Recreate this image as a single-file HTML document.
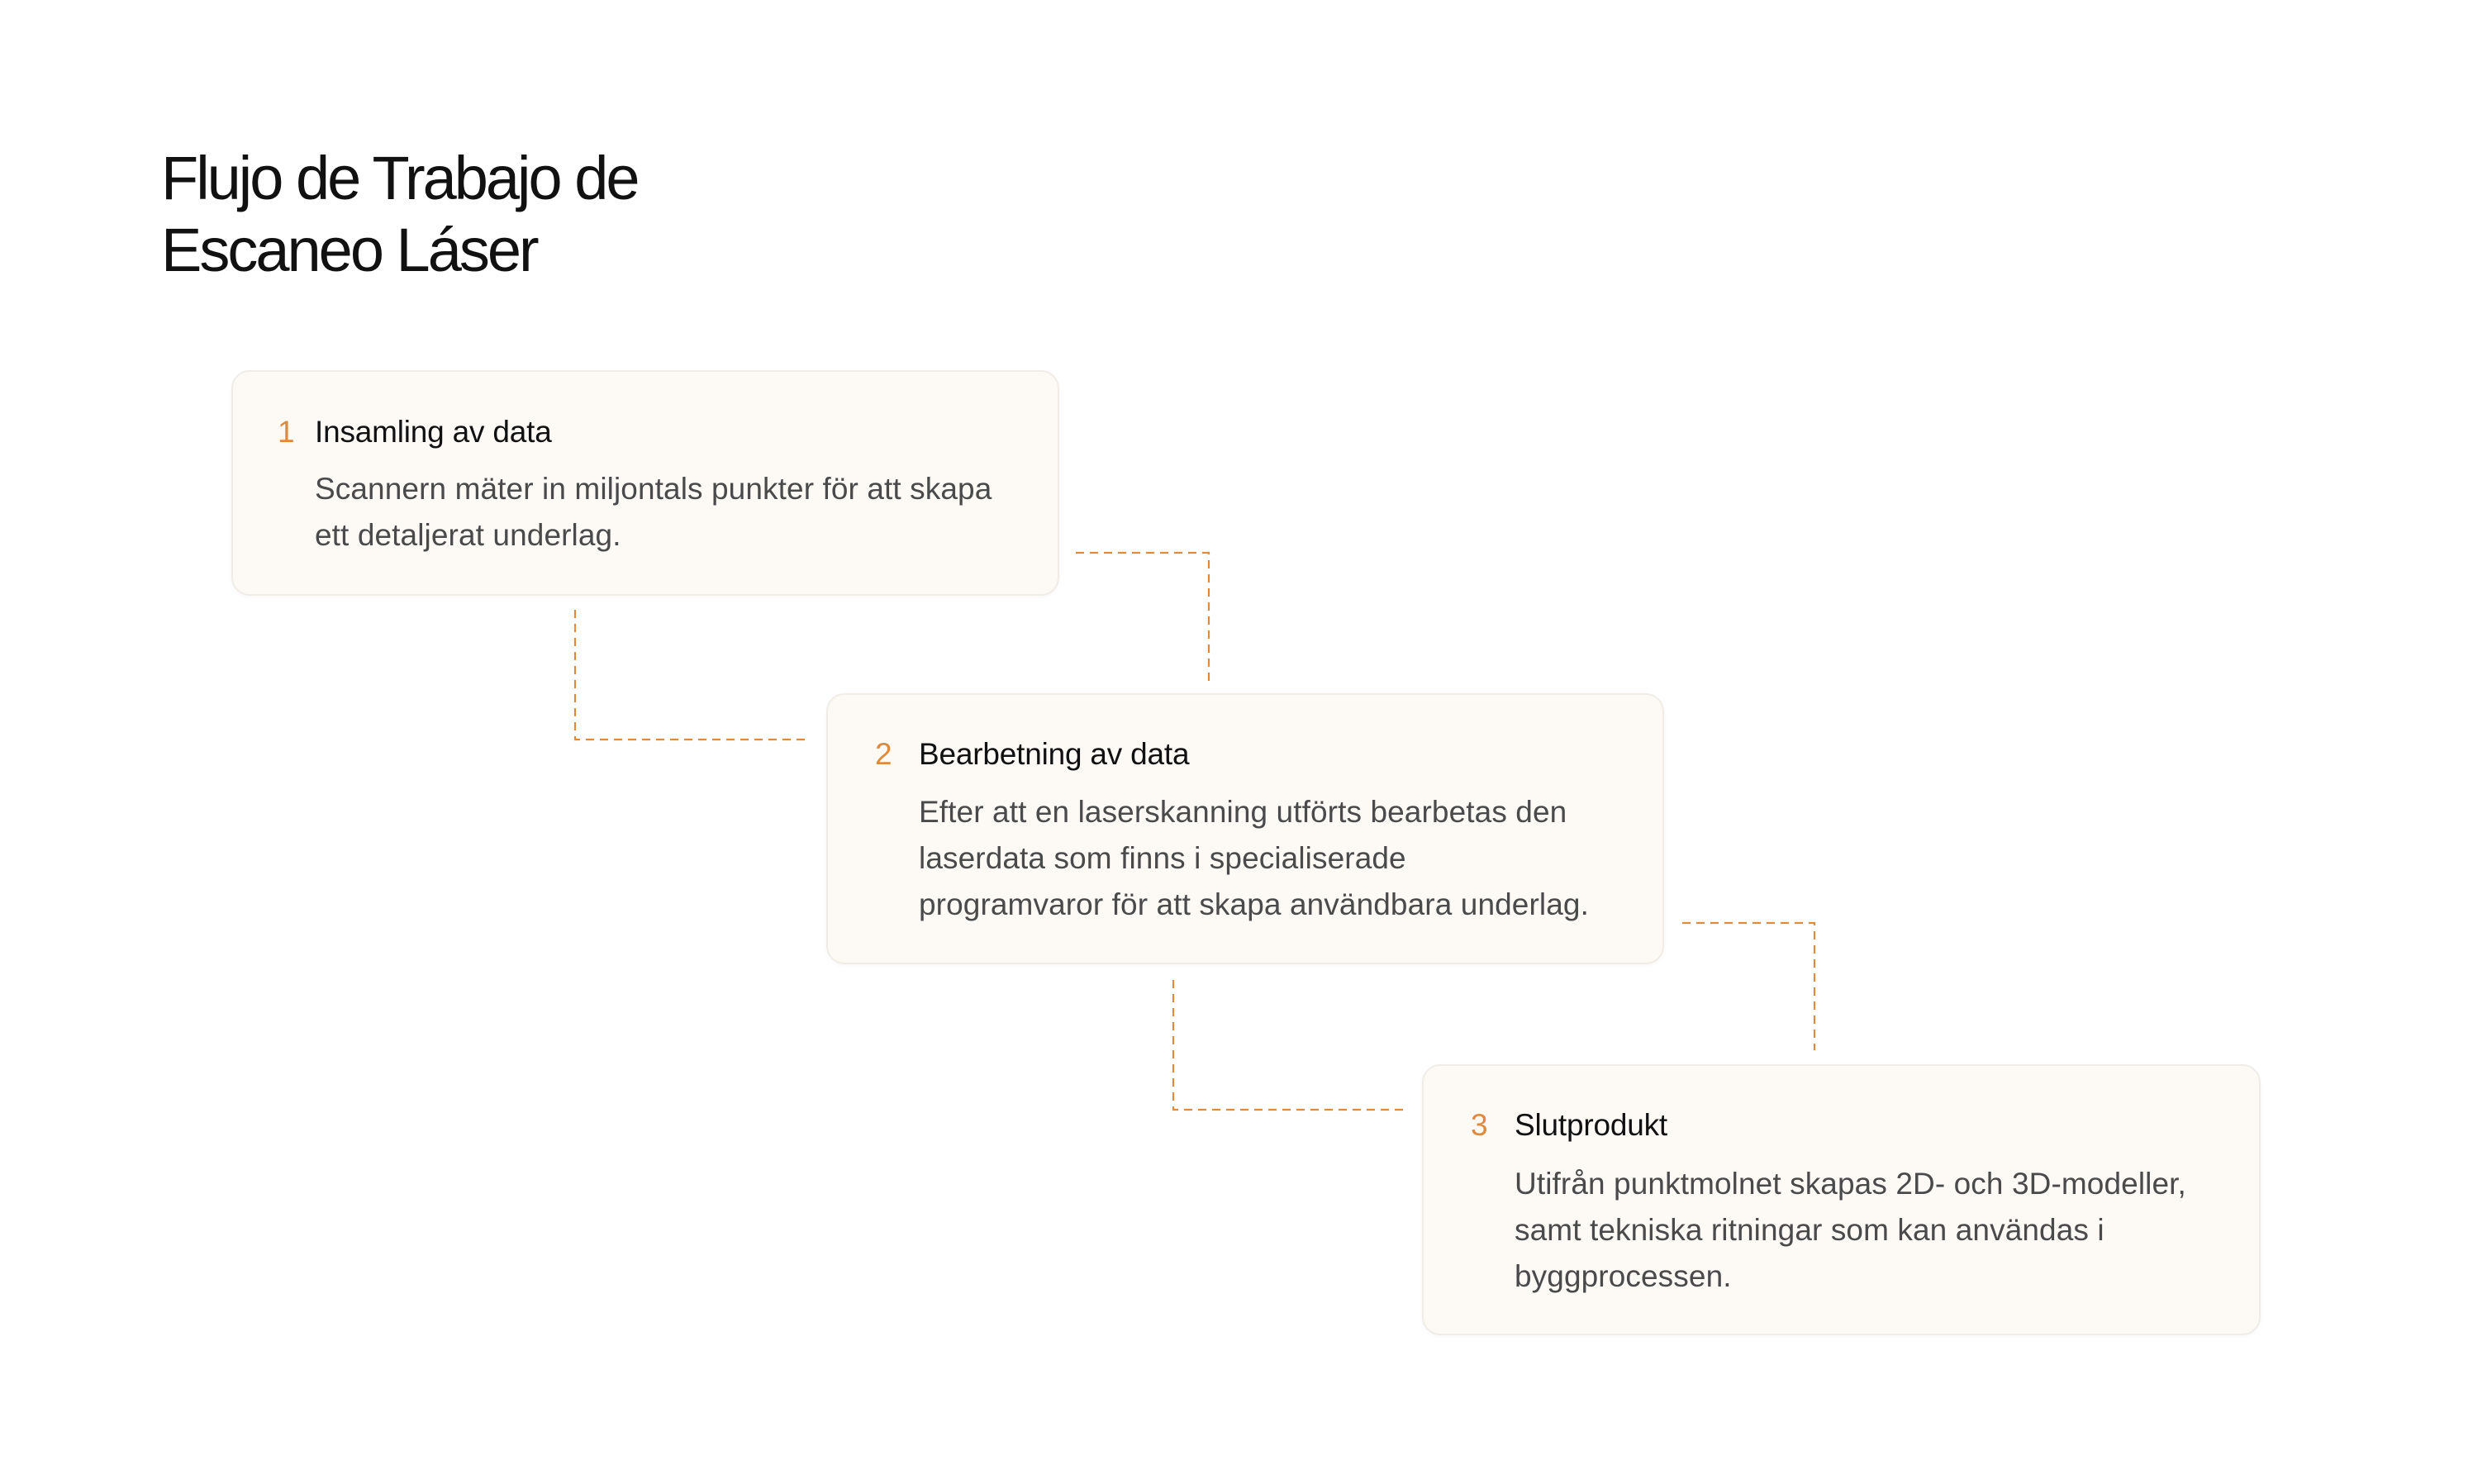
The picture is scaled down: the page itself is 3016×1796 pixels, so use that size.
<!DOCTYPE html>
<html><head><meta charset="utf-8"><style>
html,body{margin:0;padding:0;background:#fff;}
body{width:3016px;height:1796px;position:relative;overflow:hidden;font-family:"Liberation Sans",sans-serif;}
.title{position:absolute;left:195px;top:172px;font-size:74px;line-height:87px;color:#111;letter-spacing:-3px;}
.card{position:absolute;background:#fdfaf6;border:2px solid #f1ece6;border-radius:22px;box-shadow:0 2px 6px rgba(0,0,0,0.03);box-sizing:border-box;}
.num{position:absolute;font-size:37px;color:#de8a3e;}
.h{position:absolute;font-size:37px;color:#111;letter-spacing:-0.2px;white-space:nowrap;}
.b{position:absolute;font-size:37px;line-height:56px;color:#4a4a4a;letter-spacing:0.1px;white-space:nowrap;}
svg{position:absolute;left:0;top:0;}
</style></head><body>
<div class="title">Flujo de Trabajo de<br>Escaneo Láser</div>

<svg width="3016" height="1796">
<g fill="none" stroke="#e08a3c" stroke-width="2.2" stroke-dasharray="10 7">
<path d="M1302 669 H1463 V824"/>
<path d="M696 738 V895 H978"/>
<path d="M2036 1117 H2196 V1271"/>
<path d="M1420 1186 V1343 H1698"/>
</g>
</svg>

<div class="card" style="left:280px;top:448px;width:1002px;height:273px;"></div>
<div class="num" style="left:336px;top:502px;">1</div>
<div class="h" style="left:381px;top:502px;">Insamling av data</div>
<div class="b" style="left:381px;top:564px;">Scannern mäter in miljontals punkter för att skapa<br>ett detaljerat underlag.</div>

<div class="card" style="left:1000px;top:839px;width:1014px;height:328px;"></div>
<div class="num" style="left:1059px;top:892px;">2</div>
<div class="h" style="left:1112px;top:892px;">Bearbetning av data</div>
<div class="b" style="left:1112px;top:955px;">Efter att en laserskanning utförts bearbetas den<br>laserdata som finns i specialiserade<br>programvaror för att skapa användbara underlag.</div>

<div class="card" style="left:1721px;top:1288px;width:1015px;height:328px;"></div>
<div class="num" style="left:1780px;top:1341px;">3</div>
<div class="h" style="left:1833px;top:1341px;">Slutprodukt</div>
<div class="b" style="left:1833px;top:1405px;">Utifrån punktmolnet skapas 2D- och 3D-modeller,<br>samt tekniska ritningar som kan användas i<br>byggprocessen.</div>
</body></html>
